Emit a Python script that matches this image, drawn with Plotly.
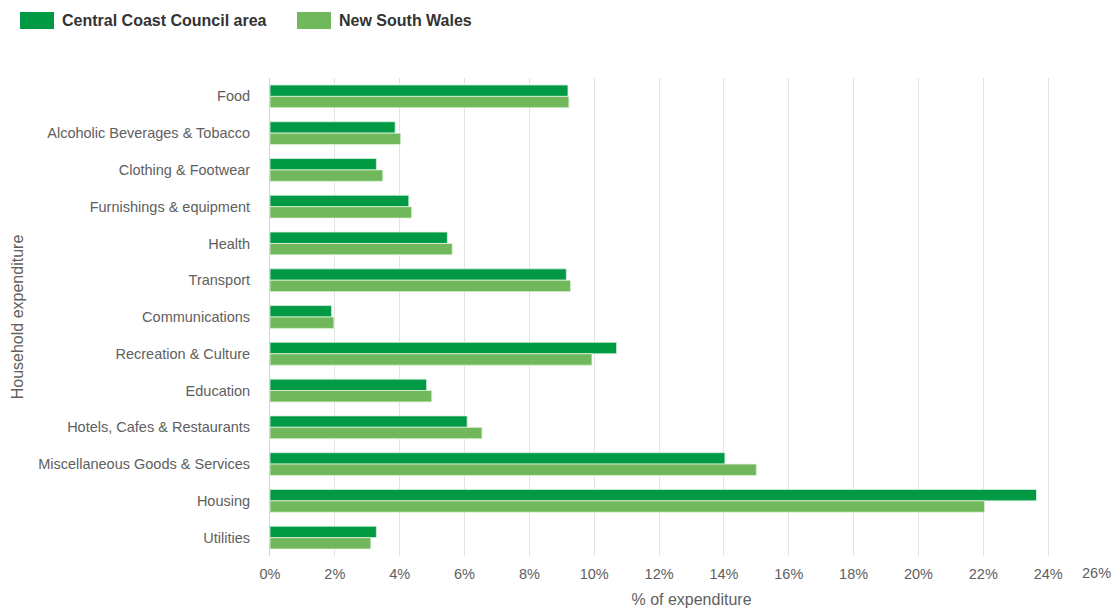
import plotly.graph_objects as go

categories = ["Food", "Alcoholic Beverages & Tobacco", "Clothing & Footwear",
              "Furnishings & equipment", "Health", "Transport", "Communications",
              "Recreation & Culture", "Education", "Hotels, Cafes & Restaurants",
              "Miscellaneous Goods & Services", "Housing", "Utilities"]
central_coast = [9.19, 3.86, 3.28, 4.28, 5.47, 9.14, 1.90, 10.69, 4.83, 6.08, 14.03, 23.64, 3.28]
nsw = [9.22, 4.03, 3.48, 4.37, 5.62, 9.27, 1.97, 9.93, 4.99, 6.54, 15.00, 22.04, 3.11]
series_names = ["Central Coast Council area", "New South Wales"]
x_ticks = list(range(0, 26, 2))

DARK = "#009a44"
LIGHT = "#70b85b"
FONT = "Liberation Sans, Arial, sans-serif"
TXT = "#606060"

W, H = 1116, 615
ML, MR, MT, MB = 270, 3, 78, 59
PW, PH = W - ML - MR, H - MT - MB

fig = go.Figure()
fig.add_trace(go.Bar(y=categories, x=central_coast, orientation="h", name=series_names[0],
                     marker=dict(color=DARK, line=dict(color="#d8efe0", width=0.8)),
                     showlegend=False))
fig.add_trace(go.Bar(y=categories, x=nsw, orientation="h", name=series_names[1],
                     marker=dict(color=LIGHT, line=dict(color="#e2f2dc", width=0.8)),
                     showlegend=False))

fig.update_layout(
    width=W, height=H,
    margin=dict(l=ML, r=MR, t=MT, b=MB),
    paper_bgcolor="white", plot_bgcolor="white",
    barmode="group", bargap=0.38, bargroupgap=0,
    font=dict(family=FONT, size=14.5, color=TXT),
    xaxis=dict(range=[0, 26], tickvals=x_ticks, ticktext=[f"{v}%" for v in x_ticks],
               showgrid=True, gridcolor="#e3e3e3", gridwidth=1, zeroline=False,
               showline=False, ticks="", ticklabelstandoff=7, tickfont=dict(size=14.5, color=TXT),
               title=dict(text="% of expenditure", font=dict(size=16, color=TXT), standoff=13)),
    yaxis=dict(autorange="reversed", showgrid=False, showline=True, linecolor="#ccd6eb",
               linewidth=1, ticks="", ticklabelstandoff=16, tickfont=dict(size=14.5, color=TXT),
               title=dict(text="Household expenditure", font=dict(size=16, color=TXT), standoff=10)),
)

# 26% end label (kept inside the chart like the reference)
fig.add_annotation(x=26, xref="x", y=0, yref="paper", yshift=-7, text="26%",
                   showarrow=False, xanchor="right", yanchor="top",
                   font=dict(size=14.5, color=TXT))

# custom legend with wide swatches (pixel positions converted to paper coords)
legend_items = [(series_names[0], DARK, 20), (series_names[1], LIGHT, 297)]
for name, color, px in legend_items:
    fig.add_shape(type="rect", xref="paper", yref="paper",
                  x0=(px - ML) / PW, x1=(px + 34 - ML) / PW,
                  y0=(H - MB - 29) / PH, y1=(H - MB - 12) / PH,
                  line=dict(width=0), fillcolor=color)
    fig.add_annotation(x=(px + 40 - ML) / PW, xref="paper", y=(H - MB - 21) / PH, yref="paper",
                       text=f"<b>{name}</b>", showarrow=False, xanchor="left", yanchor="middle",
                       font=dict(size=16, color="#333333"))

fig.write_html("out.html", config={"displayModeBar": False},
               post_script="document.body.style.margin='0';")
